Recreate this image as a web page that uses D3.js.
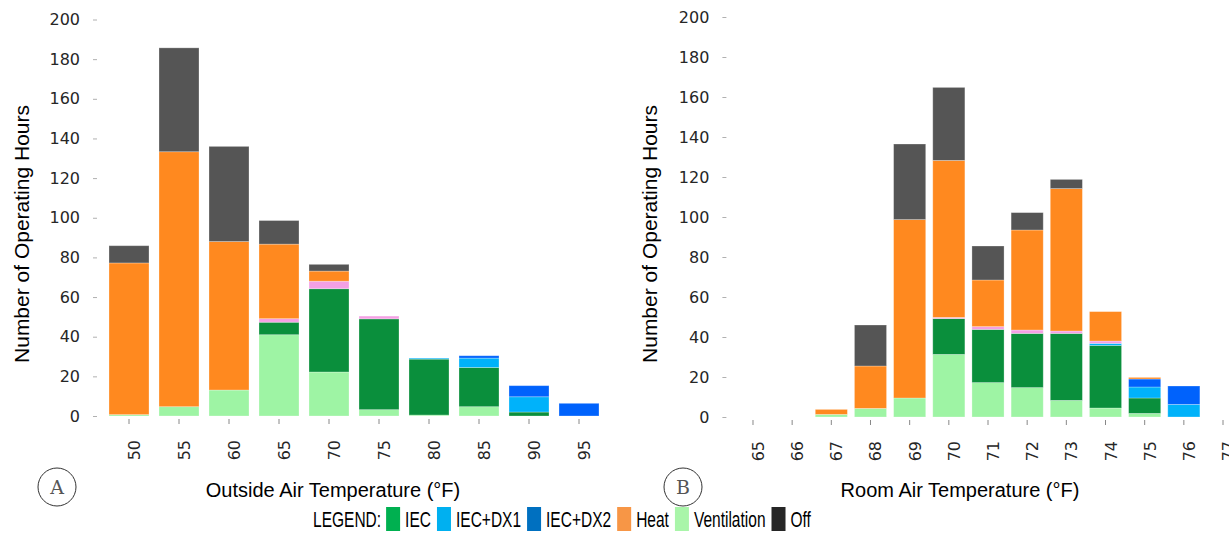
<!DOCTYPE html>
<html>
<head>
<meta charset="utf-8">
<script src="https://cdn.jsdelivr.net/npm/d3@7"></script>
<style>
  body { margin: 0; background: #fff; }
  #chart { width: 1229px; height: 534px; }
  .tick-label { font-family: "DejaVu Sans", sans-serif; fill: #262626; }
  .axis-title { font-family: "Liberation Sans", Arial, sans-serif; fill: #000; }
</style>
</head>
<body>
<div id="chart"></div>
<script>
// series stacked bottom to top
const seriesKeys = ["vent", "iec", "dx1", "dx2", "mixed", "heat", "off"];
const seriesColors = {
    vent: "#9ef4a4", iec: "#0a8f3c", dx1: "#00b2fa", dx2: "#0062fc",
    mixed: "#f4a0e4", heat: "#ff891f", off: "#555555"
};

// Chart A: outside air temperature
const outsideTemps = ["50", "55", "60", "65", "70", "75", "80", "85", "90", "95"];
const outsideVent  = [0.7, 4.7, 13.1, 41, 22.2, 3.2, 0.5, 4.7, 0, 0];
const outsideIec   = [0, 0, 0, 6.3, 42, 45.8, 28.2, 19.8, 2, 0];
const outsideDx1   = [0, 0, 0, 0, 0, 0, 0.5, 4.7, 7.7, 0];
const outsideDx2   = [0, 0, 0, 0, 0, 0, 0, 1.2, 5.6, 6.4];
const outsideMixed = [0, 0, 0, 1.8, 3.8, 1.4, 0, 0, 0, 0];
const outsideHeat  = [76.5, 128.6, 74.9, 37.6, 5.1, 0, 0, 0, 0, 0];
const outsideOff   = [8.7, 52.4, 48, 11.9, 3.4, 0, 0, 0, 0, 0];

// Chart B: room air temperature
const roomTemps = ["65", "66", "67", "68", "69", "70", "71", "72", "73", "74", "75", "76", "77"];
const roomVent  = [0, 0, 1.3, 4.3, 9.5, 31.3, 17.2, 14.7, 8.3, 4.5, 1.8, 0, 0];
const roomIec   = [0, 0, 0, 0, 0, 17.9, 26.6, 27.1, 33.5, 31.3, 7.7, 0, 0];
const roomDx1   = [0, 0, 0, 0, 0, 0, 0, 0, 0, 1, 5.5, 6.3, 0];
const roomDx2   = [0, 0, 0, 0, 0, 0, 0, 0, 0, 0, 4, 9.2, 0];
const roomMixed = [0, 0, 0, 0, 0, 0.6, 1.4, 1.7, 1.2, 1.2, 0, 0, 0];
const roomHeat  = [0, 0, 2.5, 21.2, 89.2, 78.5, 23.3, 50, 71.2, 14.7, 0.8, 0, 0];
const roomOff   = [0, 0, 0, 20.5, 37.8, 36.5, 17, 8.7, 4.6, 0, 0, 0, 0];

const yTicks = [0, 20, 40, 60, 80, 100, 120, 140, 160, 180, 200];

const legendItems = [
    {label: "IEC", color: "#00b050"},
    {label: "IEC+DX1", color: "#00b0f0"},
    {label: "IEC+DX2", color: "#0070c0"},
    {label: "Heat", color: "#f79646"},
    {label: "Ventilation", color: "#a9f5a9"},
    {label: "Off", color: "#262626"}
];

function buildRows(cats, vent, iec, dx1, dx2, mixed, heat, off) {
    return cats.map((c, i) => ({
        cat: c, vent: vent[i], iec: iec[i], dx1: dx1[i], dx2: dx2[i],
        mixed: mixed[i], heat: heat[i], off: off[i]
    }));
}

const svg = d3.select("#chart").append("svg")
    .attr("width", 1229)
    .attr("height", 534);

function drawPanel(opts) {
    const g = svg.append("g");
    const x = d3.scaleBand()
        .domain(opts.rows.map(d => d.cat))
        .range(opts.xRange)
        .paddingInner(opts.padding)
        .paddingOuter(opts.padding / 2);
    const y = d3.scaleLinear().domain([0, 200]).range(opts.yRange);

    const stacked = d3.stack().keys(seriesKeys)(opts.rows);

    g.selectAll(".layer")
        .data(stacked)
        .enter()
        .append("g")
        .attr("fill", d => seriesColors[d.key])
        .selectAll("rect")
        .data(d => d.filter(p => p[1] - p[0] > 0))
        .enter()
        .append("rect")
        .attr("x", d => x(d.data.cat))
        .attr("width", x.bandwidth())
        .attr("y", d => y(d[1]))
        .attr("height", d => y(d[0]) - y(d[1]))
        .style("stroke", "rgba(255,255,255,0.35)")
        .style("stroke-width", 0.8);

    // y axis: short grey dashes, no domain line
    const yAxis = g.append("g")
        .attr("transform", `translate(${opts.xRange[0] - 5}, 0)`)
        .call(d3.axisLeft(y).tickValues(yTicks).tickSize(4).tickPadding(15));
    yAxis.select(".domain").remove();
    yAxis.selectAll("line").attr("stroke", "#b0b0b0").attr("transform", "translate(-2,0)");
    yAxis.selectAll("text")
        .attr("class", "tick-label")
        .style("font-size", "16px");

    const xAxis = g.append("g")
        .attr("transform", `translate(0, ${opts.yRange[0] + 3})`)
        .call(d3.axisBottom(x).tickSize(5).tickPadding(0));
    xAxis.select(".domain").remove();
    xAxis.selectAll("line").attr("stroke", "#888");
    xAxis.selectAll("text")
        .attr("class", "tick-label")
        .style("font-size", "16px")
        .attr("text-anchor", "end")
        .attr("dy", null)
        .attr("transform", "translate(6, 21) rotate(-90)");

    svg.append("text")
        .attr("class", "axis-title")
        .attr("transform", `translate(${opts.yTitleX}, 234) rotate(-90)`)
        .attr("text-anchor", "middle")
        .style("font-size", "21px")
        .text("Number of Operating Hours");

    svg.append("text")
        .attr("class", "axis-title")
        .attr("x", opts.xTitleX)
        .attr("y", 497)
        .attr("text-anchor", "middle")
        .style("font-size", "20px")
        .text(opts.xTitle);

    svg.append("circle")
        .attr("cx", opts.badgeX)
        .attr("cy", 487)
        .attr("r", 19)
        .attr("fill", "none")
        .attr("stroke", "#333")
        .attr("stroke-width", 1);
    svg.append("text")
        .attr("x", opts.badgeX)
        .attr("y", 494)
        .attr("text-anchor", "middle")
        .style("font-family", "'DejaVu Serif', 'Liberation Serif', serif")
        .style("font-size", "19px")
        .style("fill", "#555")
        .text(opts.badge);
}

drawPanel({
    rows: buildRows(outsideTemps, outsideVent, outsideIec, outsideDx1, outsideDx2, outsideMixed, outsideHeat, outsideOff),
    xRange: [104, 604], padding: 0.2, yRange: [416, 19.5],
    yTitleX: 29, xTitleX: 333, xTitle: "Outside Air Temperature (°F)",
    badge: "A", badgeX: 57
});

drawPanel({
    rows: buildRows(roomTemps, roomVent, roomIec, roomDx1, roomDx2, roomMixed, roomHeat, roomOff),
    xRange: [733.4, 1242.6], padding: 0.18, yRange: [417, 17],
    yTitleX: 657, xTitleX: 960, xTitle: "Room Air Temperature (°F)",
    badge: "B", badgeX: 683
});

// legend, condensed text
const squeeze = 0.69;
const legendSize = "22.5px";
const legend = svg.append("g").attr("class", "legend");
let lx = 313;
const legendTitle = legend.append("text")
    .attr("class", "axis-title")
    .attr("transform", `translate(${lx}, 527) scale(${squeeze},1)`)
    .style("font-size", legendSize)
    .text("LEGEND:");
lx += legendTitle.node().getComputedTextLength() * squeeze + 5;

legendItems.forEach(item => {
    legend.append("rect")
        .attr("x", lx)
        .attr("y", 507)
        .attr("width", 14)
        .attr("height", 24)
        .attr("fill", item.color);
    lx += 14 + 5;
    const t = legend.append("text")
        .attr("class", "axis-title")
        .attr("transform", `translate(${lx}, 527) scale(${squeeze},1)`)
        .style("font-size", legendSize)
        .text(item.label);
    lx += t.node().getComputedTextLength() * squeeze + 6;
});
</script>
</body>
</html>
